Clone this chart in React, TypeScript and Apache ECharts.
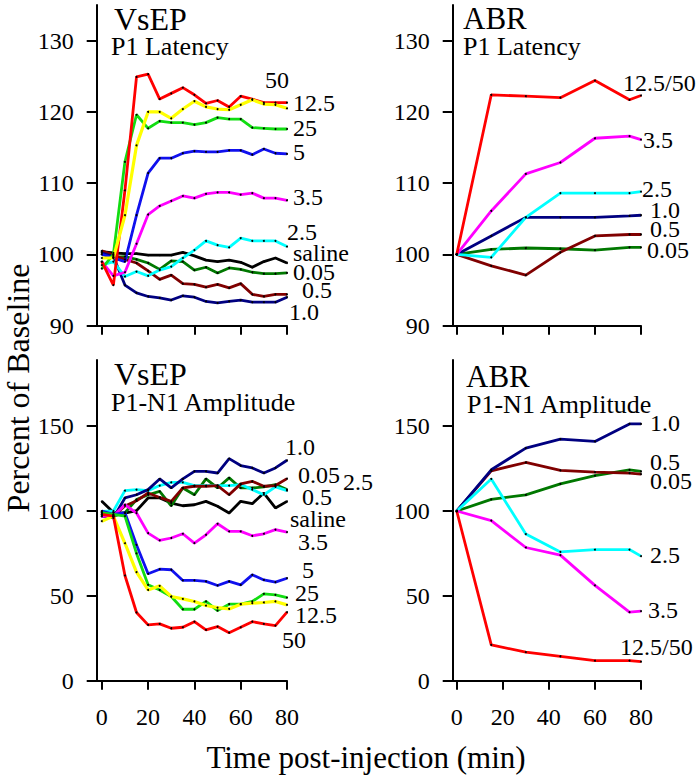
import React, { useEffect, useRef } from 'react';
import * as echarts from 'echarts';

const FONT = 'Liberation Serif, Times New Roman, serif';

// ---------- axes / ticks ----------
const vsepTimes = [0, 5, 10, 15, 20, 25, 30, 35, 40, 45, 50, 55, 60, 65, 70, 75, 80];
const abrTimes = [0, 15, 30, 45, 60, 75, 80];
const timeTicks = [0, 20, 40, 60, 80];
const latencyTicks = [90, 100, 110, 120, 130];
const amplitudeTicks = [0, 50, 100, 150];

// ---------- VsEP P1 latency (% baseline) ----------
const vLat50 = [99, 95.7, 109, 124.9, 125.3, 121.8, 122.6, 123.4, 122.4, 121.2, 121.6, 120.7, 122.2, 121.8, 121.3, 121.3, 121.3];
const vLat12_5 = [99.5, 99.5, 105.5, 115.3, 120.0, 120.0, 119.1, 120.4, 121.5, 120.7, 120.4, 120.3, 121.0, 121.7, 121.1, 121.0, 120.5];
const vLat25 = [98, 100, 113, 119.6, 117.7, 118.7, 118.5, 118.5, 118.2, 118.5, 119.2, 119.0, 119.0, 117.8, 117.7, 117.6, 117.6];
const vLat5 = [100, 99.5, 99, 105.5, 111.4, 113.5, 113.5, 114.2, 114.5, 114.4, 114.4, 114.6, 114.6, 114.0, 114.8, 114.2, 114.1];
const vLat3_5 = [99, 97, 97.5, 101.5, 105.6, 106.8, 107.5, 108.2, 107.9, 108.5, 108.7, 108.7, 108.4, 108.6, 107.9, 107.9, 107.6];
const vLat2_5 = [98.5, 99.0, 96.9, 97.6, 97.0, 97.8, 98.3, 99.5, 100.6, 101.9, 101.3, 101.0, 102.3, 101.9, 101.9, 101.9, 101.1];
const vLatSaline = [100.4, 100.2, 100.1, 100.1, 99.9, 99.9, 99.9, 100.3, 99.8, 99.2, 99.0, 99.2, 98.9, 98.2, 99.0, 99.5, 98.8];
const vLat0_05 = [100.3, 99.6, 99.7, 99.3, 98.8, 97.9, 99.1, 99.0, 97.8, 98.2, 97.4, 98.1, 97.9, 97.5, 97.3, 97.3, 97.4];
const vLat0_5 = [100.5, 99.9, 99.3, 98.8, 97.7, 96.5, 97.1, 95.9, 95.8, 95.4, 95.8, 95.3, 95.9, 94.4, 94.1, 94.4, 94.4];
const vLat1_0 = [100.2, 99.7, 95.7, 94.6, 94.1, 93.9, 93.6, 94.2, 94.0, 93.4, 93.2, 93.4, 93.6, 93.3, 93.3, 93.3, 94.0];

// ---------- ABR P1 latency ----------
const aLat12_5_50 = [100, 122.4, 122.2, 122.0, 124.4, 121.7, 122.3];
const aLat3_5 = [100, 106.1, 111.3, 112.9, 116.3, 116.6, 116.1];
const aLat2_5 = [100, 99.6, 105.2, 108.6, 108.6, 108.6, 108.8];
const aLat1_0 = [100, 102.6, 105.2, 105.2, 105.2, 105.4, 105.5];
const aLat0_5 = [100, 98.4, 97.1, 100.3, 102.6, 102.8, 102.8];
const aLat0_05 = [100, 100.7, 100.9, 100.8, 100.6, 101.0, 101.0];

// ---------- VsEP P1-N1 amplitude ----------
const vAmp1_0 = [97, 95.9, 107.7, 109.6, 112.6, 118.9, 113.6, 118.9, 123.4, 123.4, 122.4, 130.9, 126.8, 125.4, 122.4, 125.4, 129.9];
const vAmp0_05 = [98.8, 97, 99, 106.7, 109.6, 111.6, 103.1, 113.6, 109.6, 118.9, 113.6, 119.5, 113.6, 113.6, 114.2, 115.6, 112.6];
const vAmp2_5 = [99.8, 100, 112.0, 112.6, 112.0, 115.0, 116.9, 116.9, 115.0, 115.0, 115.0, 115.0, 115.6, 112.6, 109.6, 114.2, 112.0];
const vAmp0_5 = [97.8, 96.9, 103, 106, 110.6, 108, 105.7, 113.6, 114.6, 114.6, 115.0, 109.6, 116.0, 117.5, 114.6, 115.0, 119.1];
const vAmpSaline = [105.7, 99.2, 98.8, 100.2, 107.7, 107.7, 104.7, 103.1, 103.7, 105.7, 102.8, 98.8, 105.7, 104.3, 110.6, 101.8, 105.7];
const vAmp3_5 = [96.9, 97, 103.7, 98.8, 87.0, 82.7, 84.1, 86.6, 81.1, 86.0, 92.5, 88.0, 88.0, 85.4, 86.6, 89.0, 87.6];
const vAmp5 = [100, 98, 99, 80, 63.0, 65.7, 65.4, 59.1, 59.1, 58.5, 56.1, 58.5, 56.5, 62.4, 59.4, 58.1, 60.4];
const vAmp25 = [99, 98, 97, 75, 56.5, 53.5, 49.6, 42.1, 42.1, 46.7, 41.3, 45.1, 45.1, 46.7, 51.2, 50.6, 49.0];
const vAmp12_5 = [94, 97, 81, 64, 53.5, 55.9, 49.6, 48.2, 46.7, 44.3, 43.1, 42.3, 45.1, 45.7, 46.1, 46.7, 44.7];
const vAmp50 = [98, 97, 62, 40.2, 32.9, 33.5, 30.9, 31.5, 34.8, 29.9, 31.9, 28.3, 31.5, 34.8, 33.5, 32.5, 40.4];

// ---------- ABR P1-N1 amplitude ----------
const aAmp1_0 = [100, 124.3, 137.1, 142.4, 141.0, 151.3, 151.3];
const aAmp0_5 = [100, 123.7, 128.6, 123.9, 122.9, 122.3, 121.7];
const aAmp0_05 = [100, 106.9, 109.5, 116.0, 120.9, 124.3, 123.3];
const aAmp2_5 = [100, 118.9, 86.4, 75.9, 77.3, 77.3, 73.4];
const aAmp3_5 = [100, 94.3, 78.5, 74.0, 56.2, 40.4, 41.0];
const aAmp12_5_50 = [100, 21.1, 16.8, 14.4, 11.8, 11.8, 11.2];

// ---------- colours ----------
const C = {
  red: '#ff0000',
  yellow: '#ffff00',
  green: '#11dd11',
  blue: '#1010ee',
  magenta: '#ff00ff',
  cyan: '#00ffff',
  black: '#000000',
  dkgreen: '#007800',
  dkred: '#800000',
  navy: '#000080',
};

type Spec = { name: string; color: string; times: number[]; values: number[]; panel: number; off: [number, number] };

const specs: Spec[] = [
  // panel 0: VsEP latency
  { name: 'saline', color: C.black, times: vsepTimes, values: vLatSaline, panel: 0, off: [6, -10] },
  { name: '0.05', color: C.dkgreen, times: vsepTimes, values: vLat0_05, panel: 0, off: [6, -1] },
  { name: '0.5', color: C.dkred, times: vsepTimes, values: vLat0_5, panel: 0, off: [15, -4] },
  { name: '1.0', color: C.navy, times: vsepTimes, values: vLat1_0, panel: 0, off: [2, 15] },
  { name: '2.5', color: C.cyan, times: vsepTimes, values: vLat2_5, panel: 0, off: [0, -15] },
  { name: '3.5', color: C.magenta, times: vsepTimes, values: vLat3_5, panel: 0, off: [6, -3] },
  { name: '5', color: C.blue, times: vsepTimes, values: vLat5, panel: 0, off: [6, -2] },
  { name: '25', color: C.green, times: vsepTimes, values: vLat25, panel: 0, off: [6, -1] },
  { name: '50', color: C.red, times: vsepTimes, values: vLat50, panel: 0, off: [-22, -23] },
  { name: '12.5', color: C.yellow, times: vsepTimes, values: vLat12_5, panel: 0, off: [6, -5] },
  // panel 1: ABR latency
  { name: '0.05', color: C.dkgreen, times: abrTimes, values: aLat0_05, panel: 1, off: [6, 3] },
  { name: '0.5', color: C.dkred, times: abrTimes, values: aLat0_5, panel: 1, off: [9, -5] },
  { name: '1.0', color: C.navy, times: abrTimes, values: aLat1_0, panel: 1, off: [9, -5] },
  { name: '2.5', color: C.cyan, times: abrTimes, values: aLat2_5, panel: 1, off: [1, -3] },
  { name: '3.5', color: C.magenta, times: abrTimes, values: aLat3_5, panel: 1, off: [2, 0] },
  { name: '12.5/50', color: C.red, times: abrTimes, values: aLat12_5_50, panel: 1, off: [-18, -13] },
  // panel 2: VsEP amplitude
  { name: 'saline', color: C.black, times: vsepTimes, values: vAmpSaline, panel: 2, off: [3, 18] },
  { name: '0.05', color: C.dkgreen, times: vsepTimes, values: vAmp0_05, panel: 2, off: [11, -15] },
  { name: '2.5', color: C.cyan, times: vsepTimes, values: vAmp2_5, panel: 2, off: [56, -9] },
  { name: '0.5', color: C.dkred, times: vsepTimes, values: vAmp0_5, panel: 2, off: [15, 18] },
  { name: '1.0', color: C.navy, times: vsepTimes, values: vAmp1_0, panel: 2, off: [-2, -13] },
  { name: '3.5', color: C.magenta, times: vsepTimes, values: vAmp3_5, panel: 2, off: [11, 10] },
  { name: '5', color: C.blue, times: vsepTimes, values: vAmp5, panel: 2, off: [15, -8] },
  { name: '25', color: C.green, times: vsepTimes, values: vAmp25, panel: 2, off: [8, -5] },
  { name: '12.5', color: C.yellow, times: vsepTimes, values: vAmp12_5, panel: 2, off: [8, 10] },
  { name: '50', color: C.red, times: vsepTimes, values: vAmp50, panel: 2, off: [-5, 28] },
  // panel 3: ABR amplitude
  { name: '0.05', color: C.dkgreen, times: abrTimes, values: aAmp0_05, panel: 3, off: [9, 10] },
  { name: '0.5', color: C.dkred, times: abrTimes, values: aAmp0_5, panel: 3, off: [9, -12] },
  { name: '1.0', color: C.navy, times: abrTimes, values: aAmp1_0, panel: 3, off: [9, -1] },
  { name: '2.5', color: C.cyan, times: abrTimes, values: aAmp2_5, panel: 3, off: [9, -1] },
  { name: '3.5', color: C.magenta, times: abrTimes, values: aAmp3_5, panel: 3, off: [7, -1] },
  { name: '12.5/50', color: C.red, times: abrTimes, values: aAmp12_5_50, panel: 3, off: [-21, -15] },
];

const grids = [
  { left: 96.7, top: 5, width: 190.3, height: 320.7 },
  { left: 452.7, top: 5, width: 188.3, height: 320.7 },
  { left: 96.7, top: 360, width: 190.3, height: 320.7 },
  { left: 452.7, top: 360, width: 188.3, height: 320.7 },
];
const xMins = [-2.2, -1.74, -2.2, -1.74];

const axisLine = { show: true, onZero: false, lineStyle: { color: '#000', width: 2 } };

function buildOption() {
  const xAxis = grids.map((_, i) => ({
    type: 'value',
    gridIndex: i,
    min: xMins[i],
    max: 80,
    axisLine,
    axisTick: { show: true, inside: false, length: 9, customValues: timeTicks, lineStyle: { color: '#000', width: 2 } },
    axisLabel: {
      show: i >= 2,
      customValues: timeTicks,
      margin: 24,
      color: '#000',
      fontSize: 24,
      fontFamily: FONT,
    },
    splitLine: { show: false },
  }));
  const yAxis = grids.map((_, i) => {
    const top = i < 2;
    return {
      type: 'value',
      gridIndex: i,
      min: top ? 90 : 0,
      max: top ? 135 : 189,
      axisLine,
      axisTick: { show: true, length: 10, customValues: top ? latencyTicks : amplitudeTicks, lineStyle: { color: '#000', width: 2 } },
      axisLabel: {
        show: true,
        customValues: top ? latencyTicks : amplitudeTicks,
        margin: 23,
        color: '#000',
        fontSize: 24,
        fontFamily: FONT,
      },
      splitLine: { show: false },
    };
  });
  const series = specs.map((s) => ({
    type: 'line',
    name: s.name,
    xAxisIndex: s.panel,
    yAxisIndex: s.panel,
    data: s.times.map((t, k) => [t, s.values[k]]),
    showSymbol: true,
    showAllSymbol: true,
    symbol: 'circle',
    symbolSize: 2,
    itemStyle: { color: '#000' },
    lineStyle: { color: s.color, width: s.color === C.yellow ? 3.2 : 2.8 },
    emphasis: { disabled: true },
    endLabel: {
      show: true,
      formatter: s.name,
      color: '#000',
      fontSize: 24,
      fontFamily: FONT,
      distance: 0,
      offset: s.off,
    },
  }));

  const titleText = (x: number, y: number, text: string, size: number) => ({
    type: 'text',
    x,
    y,
    style: { text, fontSize: size, fontFamily: FONT, fill: '#000', align: 'left', verticalAlign: 'middle' },
  });

  return {
    animation: false,
    backgroundColor: '#fff',
    grid: grids,
    xAxis,
    yAxis,
    series,
    graphic: [
      titleText(114, 19, 'VsEP', 32),
      titleText(111, 46, 'P1 Latency', 26),
      titleText(463, 18, 'ABR', 31),
      titleText(463, 46, 'P1 Latency', 26),
      titleText(114, 374, 'VsEP', 32),
      titleText(111, 402, 'P1-N1 Amplitude', 26),
      titleText(466, 376, 'ABR', 31),
      titleText(467, 404, 'P1-N1 Amplitude', 26),
      {
        type: 'text',
        x: 18,
        y: 388,
        rotation: Math.PI / 2,
        style: { text: 'Percent of Baseline', fontSize: 32, fontFamily: FONT, fill: '#000', align: 'center', verticalAlign: 'middle' },
      },
      {
        type: 'text',
        x: 366,
        y: 757,
        style: { text: 'Time post-injection (min)', fontSize: 31, fontFamily: FONT, fill: '#000', align: 'center', verticalAlign: 'middle' },
      },
    ],
  };
}

export default function App() {
  const ref = useRef<HTMLDivElement>(null);
  useEffect(() => {
    if (!ref.current) return;
    const chart = echarts.init(ref.current, undefined, { renderer: 'svg' });
    chart.setOption(buildOption() as any);
    return () => chart.dispose();
  }, []);
  return (
    <div
      ref={ref}
      style={{ position: 'fixed', left: 0, top: 0, width: 700, height: 777, background: '#fff' }}
    />
  );
}
